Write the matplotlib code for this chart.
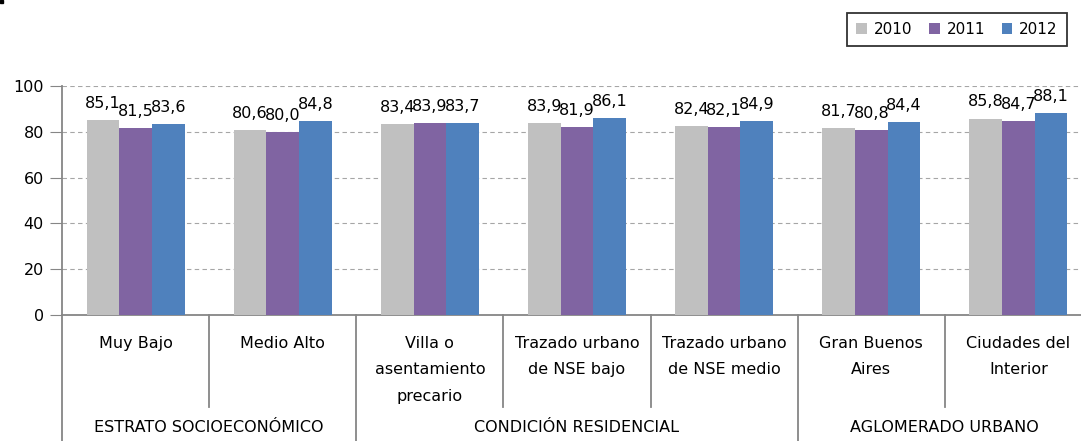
import matplotlib
matplotlib.use('Agg')
import matplotlib.pyplot as plt
import matplotlib.transforms as mtransforms
from matplotlib.patches import Rectangle
import numpy as np

plt.rcParams['font.family'] = ['DejaVu Sans']

# ─── Data ───
CATEGORIES = ['Muy Bajo', 'Medio Alto', 'Villa o\nasentamiento\nprecario',
              'Trazado urbano\nde NSE bajo', 'Trazado urbano\nde NSE medio',
              'Gran Buenos\nAires', 'Ciudades del\nInterior']
GROUPS = ['ESTRATO SOCIOECONÓMICO', 'CONDICIÓN RESIDENCIAL', 'AGLOMERADO URBANO']
GROUP_SIZES = [2, 3, 2]
YEARS = ['2010', '2011', '2012']
V2010 = [85.1, 80.6, 83.4, 83.9, 82.4, 81.7, 85.8]
V2011 = [81.5, 80.0, 83.9, 81.9, 82.1, 80.8, 84.7]
V2012 = [83.6, 84.8, 83.7, 86.1, 84.9, 84.4, 88.1]
COLORS = ['#c0c0c0', '#8064a2', '#4f81bd']

W, H = 1081, 441
fig = plt.figure(figsize=(W / 100, H / 100), dpi=100)
# axes extends slightly past the right edge, as in the original (cropped)
ax = fig.add_axes([62 / W, 1 - 315 / H, 1030 / W, 229 / H])

x = np.arange(len(CATEGORIES))
bw = 0.222
series = [V2010, V2011, V2012]
for j, (vals, col, yr) in enumerate(zip(series, COLORS, YEARS)):
    pos = x + (j - 1) * bw
    ax.bar(pos, vals, width=bw, color=col, label=yr, zorder=3)
    for px, v in zip(pos, vals):
        ax.annotate(f'{v:.1f}'.replace('.', ','), (px, v), xytext=(0, 6.5),
                    textcoords='offset points', ha='center', va='bottom',
                    fontsize=11.5, zorder=4)

ax.set_xlim(-0.5, len(CATEGORIES) - 0.5)
ax.set_ylim(0, 100)
ax.set_yticks(range(0, 101, 20))
ax.tick_params(axis='y', labelsize=11.5, length=9, color='#868686', pad=4)
ax.yaxis.grid(True, linestyle=(0, (4, 3)), color='#a6a6a6', linewidth=0.8, zorder=0)
for s in ['top', 'right']:
    ax.spines[s].set_visible(False)
for s in ['left', 'bottom']:
    ax.spines[s].set_color('#868686')
    ax.spines[s].set_linewidth(1.3)
ax.set_xticks([])

# hierarchical category axis
trans = mtransforms.blended_transform_factory(ax.transData, ax.transAxes)
ax_h = 229.0  # axes height in px


def yax(px):
    return -px / ax_h


for i, lab in enumerate(CATEGORIES):
    ax.text(i, yax(21), lab, transform=trans, ha='center', va='top',
            fontsize=11.5, linespacing=1.95)

start = 0
for g, n in zip(GROUPS, GROUP_SIZES):
    ax.plot([start - 0.5, start - 0.5], [0, yax(130)], transform=trans,
            color='#868686', lw=1.3, clip_on=False)
    for k in range(1, n):
        ax.plot([start + k - 0.5] * 2, [0, yax(92)], transform=trans,
                color='#868686', lw=1.3, clip_on=False)
    ax.text(start + (n - 1) / 2, yax(113), g, transform=trans, ha='center',
            va='center', fontsize=11.5)
    start += n
ax.plot([start - 0.5] * 2, [0, yax(130)], transform=trans,
        color='#868686', lw=1.3, clip_on=False)

leg = fig.legend(loc='upper right', bbox_to_anchor=(1067 / W, 1 - 13 / H), ncol=3,
                 fontsize=11, frameon=True, fancybox=False, handlelength=0.7,
                 handleheight=0.7, columnspacing=1.1, handletextpad=0.45,
                 borderpad=0.6, borderaxespad=0)
leg.get_frame().set_edgecolor('black')
leg.get_frame().set_linewidth(1.3)

# small mark in the top-left corner of the original image
fig.patches.append(Rectangle((0, 1 - 3 / H), 3 / W, 3 / H, transform=fig.transFigure,
                             color='black'))

fig.savefig('out.png', dpi=100)
